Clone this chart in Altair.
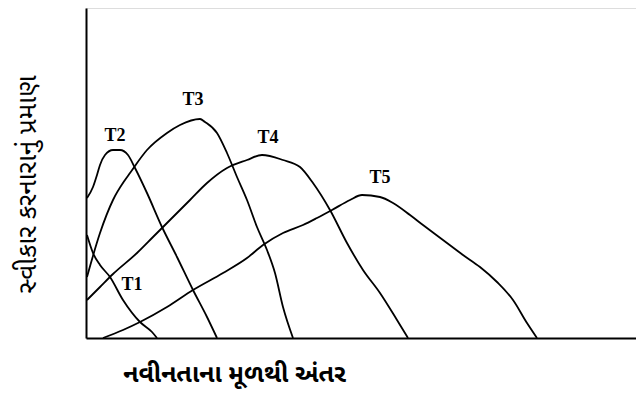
import altair as alt
import pandas as pd

# Values (arbitrary units: distance from origin, share of adopters)
t1_x = [1, 7, 14, 24, 37, 54, 66, 71]
t1_y = [103, 85, 73, 61, 38, 16, 6, 0]

t2_x = [1, 7, 11, 14, 19, 27, 34, 42, 49, 61, 76, 91, 107, 121, 131]
t2_y = [140, 151, 163, 173, 183, 188, 188, 183, 170, 145, 111, 81, 48, 21, 0]

t3_x = [1, 14, 27, 39, 44, 61, 81, 94, 114, 119, 131, 141, 151, 161, 171, 181, 189, 197, 207]
t3_y = [61, 105, 138, 158, 165, 188, 205, 213, 219, 216, 205, 185, 161, 138, 111, 88, 65, 31, 0]

t4_x = [1, 14, 27, 51, 67, 84, 104, 121, 141, 161, 176, 197, 214, 227, 244, 261, 277, 294, 311, 322]
t4_y = [38, 51, 64, 85, 101, 118, 138, 155, 170, 178, 183, 178, 171, 155, 128, 95, 68, 45, 18, 0]

t5_x = [17, 37, 54, 81, 107, 137, 161, 177, 197, 217, 231, 246, 264, 276, 294, 307, 324,
        337, 357, 377, 394, 411, 427, 441, 451]
t5_y = [0, 8, 16, 31, 48, 65, 80, 93, 105, 113, 120, 128, 138, 143, 141, 135, 123,
        113, 98, 83, 71, 56, 38, 15, 0]

label_names = ["T1", "T2", "T3", "T4", "T5"]
label_x = [46, 29, 107, 182, 294]
label_y = [53, 202, 238, 200, 160]

x_title = "નવીનતાના મૂળથી અંતર"
y_title = "સ્વીકાર કરનારાનું પ્રમાણ"

rows = []
for name, xs, ys in [("T1", t1_x, t1_y), ("T2", t2_x, t2_y), ("T3", t3_x, t3_y),
                     ("T4", t4_x, t4_y), ("T5", t5_x, t5_y)]:
    for i, (a, b) in enumerate(zip(xs, ys)):
        rows.append({"curve": name, "x": a, "y": b, "order": i})
curves = pd.DataFrame(rows)
labels = pd.DataFrame({"name": label_names, "x": label_x, "y": label_y})

gfont = "Noto Sans Gujarati, Lohit Gujarati, Noto Sans, sans-serif"

xs = alt.Scale(domain=[0, 550], nice=False, zero=False)
ys = alt.Scale(domain=[0, 330], nice=False, zero=False)

x_axis = alt.Axis(title=x_title, labels=False, ticks=False, grid=False,
                  domainColor="black", domainWidth=2,
                  titleFont=gfont, titleFontSize=25, titleFontWeight="bold",
                  titleColor="black", titleAnchor="start", titleAlign="center",
                  titleX=148, titleY=35, titleBaseline="middle")
y_axis = alt.Axis(title=y_title, labels=False, ticks=False, grid=False,
                  domainColor="black", domainWidth=2,
                  titleFont=gfont, titleFontSize=26, titleFontWeight="normal",
                  titleColor="black", titleAlign="center", titleAngle=-90,
                  titleX=-59, titleY=176, titleBaseline="middle")

lines = alt.Chart(curves).mark_line(color="black", strokeWidth=1.8, interpolate="monotone").encode(
    x=alt.X("x:Q", scale=xs, axis=x_axis),
    y=alt.Y("y:Q", scale=ys, axis=y_axis),
    detail="curve:N",
    order="order:Q",
)

text = alt.Chart(labels).mark_text(font="Liberation Serif", fontSize=18, fontWeight="bold",
                                   color="black", baseline="middle", align="center").encode(
    x=alt.X("x:Q", scale=xs),
    y=alt.Y("y:Q", scale=ys),
    text="name:N",
)

chart = (lines + text).properties(
    width=550, height=330,
    autosize=alt.AutoSizeParams(type="none"),
    padding={"left": 78, "top": 0, "right": 0, "bottom": 53},
).configure_view(stroke=None).configure(background="white")

chart.save("out.html", embed_options={"renderer": "svg", "actions": False})
